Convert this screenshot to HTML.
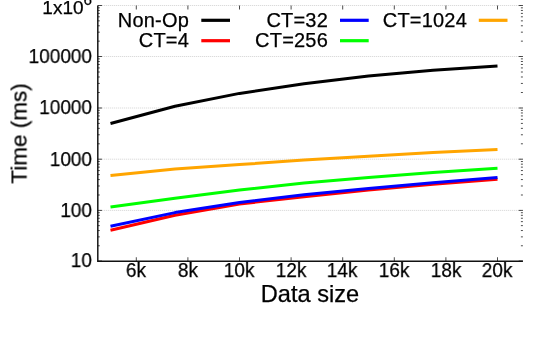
<!DOCTYPE html>
<html><head><meta charset="utf-8"><style>
html,body{margin:0;padding:0;background:#fff}
body{width:538px;height:349px;position:relative;overflow:hidden;font-family:"Liberation Sans",sans-serif;color:#000}
.t{position:absolute;white-space:nowrap;will-change:transform;-webkit-text-stroke:0.25px #000}
</style></head><body>
<svg width="538" height="349" viewBox="0 0 538 349" style="position:absolute;left:0;top:0">
<line x1="97.8" y1="210.40" x2="522.9" y2="210.40" stroke="#d2d2d2" stroke-width="1" stroke-dasharray="1,1"/>
<line x1="97.8" y1="159.20" x2="522.9" y2="159.20" stroke="#d2d2d2" stroke-width="1" stroke-dasharray="1,1"/>
<line x1="97.8" y1="108.00" x2="522.9" y2="108.00" stroke="#d2d2d2" stroke-width="1" stroke-dasharray="1,1"/>
<line x1="97.8" y1="56.50" x2="522.9" y2="56.50" stroke="#d2d2d2" stroke-width="1" stroke-dasharray="1,1"/>
<line x1="97.8" y1="5.50" x2="522.9" y2="5.50" stroke="#d2d2d2" stroke-width="1" stroke-dasharray="1,1"/>
<path d="M97.8 261.00h4.2 M522.9 261.00h-4.2 M97.8 245.77h2.0 M522.9 245.77h-2.0 M97.8 236.86h2.0 M522.9 236.86h-2.0 M97.8 230.54h2.0 M522.9 230.54h-2.0 M97.8 225.63h2.0 M522.9 225.63h-2.0 M97.8 221.63h2.0 M522.9 221.63h-2.0 M97.8 218.24h2.0 M522.9 218.24h-2.0 M97.8 215.30h2.0 M522.9 215.30h-2.0 M97.8 212.72h2.0 M522.9 212.72h-2.0 M97.8 210.40h4.2 M522.9 210.40h-4.2 M97.8 194.99h2.0 M522.9 194.99h-2.0 M97.8 185.97h2.0 M522.9 185.97h-2.0 M97.8 179.57h2.0 M522.9 179.57h-2.0 M97.8 174.61h2.0 M522.9 174.61h-2.0 M97.8 170.56h2.0 M522.9 170.56h-2.0 M97.8 167.13h2.0 M522.9 167.13h-2.0 M97.8 164.16h2.0 M522.9 164.16h-2.0 M97.8 161.54h2.0 M522.9 161.54h-2.0 M97.8 159.20h4.2 M522.9 159.20h-4.2 M97.8 143.79h2.0 M522.9 143.79h-2.0 M97.8 134.77h2.0 M522.9 134.77h-2.0 M97.8 128.37h2.0 M522.9 128.37h-2.0 M97.8 123.41h2.0 M522.9 123.41h-2.0 M97.8 119.36h2.0 M522.9 119.36h-2.0 M97.8 115.93h2.0 M522.9 115.93h-2.0 M97.8 112.96h2.0 M522.9 112.96h-2.0 M97.8 110.34h2.0 M522.9 110.34h-2.0 M97.8 108.00h4.2 M522.9 108.00h-4.2 M97.8 92.50h2.0 M522.9 92.50h-2.0 M97.8 83.43h2.0 M522.9 83.43h-2.0 M97.8 76.99h2.0 M522.9 76.99h-2.0 M97.8 72.00h2.0 M522.9 72.00h-2.0 M97.8 67.93h2.0 M522.9 67.93h-2.0 M97.8 64.48h2.0 M522.9 64.48h-2.0 M97.8 61.49h2.0 M522.9 61.49h-2.0 M97.8 58.86h2.0 M522.9 58.86h-2.0 M97.8 56.50h4.2 M522.9 56.50h-4.2 M97.8 41.15h2.0 M522.9 41.15h-2.0 M97.8 32.17h2.0 M522.9 32.17h-2.0 M97.8 25.79h2.0 M522.9 25.79h-2.0 M97.8 20.85h2.0 M522.9 20.85h-2.0 M97.8 16.81h2.0 M522.9 16.81h-2.0 M97.8 13.40h2.0 M522.9 13.40h-2.0 M97.8 10.44h2.0 M522.9 10.44h-2.0 M97.8 7.83h2.0 M522.9 7.83h-2.0 M97.8 5.50h4.2 M522.9 5.50h-4.2 M136.30 261.25v-4 M136.30 5.5v4 M187.90 261.25v-4 M187.90 5.5v4 M239.50 261.25v-4 M239.50 5.5v4 M291.10 261.25v-4 M291.10 5.5v4 M342.70 261.25v-4 M342.70 5.5v4 M394.30 261.25v-4 M394.30 5.5v4 M445.90 261.25v-4 M445.90 5.5v4 M497.50 261.25v-4 M497.50 5.5v4" stroke="#000" stroke-width="0.7" fill="none"/>
<path d="M97.8 5.5V261.25H522.9" stroke="#111" stroke-width="1.45" fill="none" stroke-linejoin="miter"/>
<polyline points="110.5,123.5 175.0,106.2 239.5,93.4 304.0,83.8 368.5,76.1 433.0,70.3 497.5,66.0" stroke="#000000" stroke-width="3" fill="none" stroke-linejoin="round"/>
<polyline points="110.5,230.2 175.0,215.3 239.5,204.0 304.0,196.7 368.5,190.1 433.0,184.3 497.5,179.2" stroke="#ff0000" stroke-width="3" fill="none" stroke-linejoin="round"/>
<polyline points="110.5,226.3 175.0,212.6 239.5,202.5 304.0,194.8 368.5,188.5 433.0,182.7 497.5,177.6" stroke="#0000ff" stroke-width="3" fill="none" stroke-linejoin="round"/>
<polyline points="110.5,207.1 175.0,198.2 239.5,190.0 304.0,183.1 368.5,177.6 433.0,172.5 497.5,168.3" stroke="#00ff00" stroke-width="3" fill="none" stroke-linejoin="round"/>
<polyline points="110.5,175.5 175.0,168.9 239.5,164.6 304.0,160.0 368.5,156.2 433.0,152.6 497.5,149.5" stroke="#ffa500" stroke-width="3" fill="none" stroke-linejoin="round"/>
<line x1="201.3" y1="20.3" x2="230" y2="20.3" stroke="#000" stroke-width="3.2"/>
<line x1="201.3" y1="40.7" x2="230" y2="40.7" stroke="#f00" stroke-width="3.2"/>
<line x1="340" y1="20.3" x2="368.7" y2="20.3" stroke="#00f" stroke-width="3.2"/>
<line x1="340" y1="40.7" x2="368.7" y2="40.7" stroke="#0f0" stroke-width="3.2"/>
<line x1="478.8" y1="20.3" x2="507.5" y2="20.3" stroke="#ffa500" stroke-width="3.2"/>
</svg>
<div class="t" style="left:-208.5px;width:300px;text-align:right;top:249.37px;font-size:19.7px;line-height:22.65px;transform:scaleX(0.965);transform-origin:100% 50%;">10</div>
<div class="t" style="left:-208.5px;width:300px;text-align:right;top:198.77px;font-size:19.7px;line-height:22.65px;transform:scaleX(0.965);transform-origin:100% 50%;">100</div>
<div class="t" style="left:-208.5px;width:300px;text-align:right;top:147.57px;font-size:19.7px;line-height:22.65px;transform:scaleX(0.965);transform-origin:100% 50%;">1000</div>
<div class="t" style="left:-208.5px;width:300px;text-align:right;top:96.37px;font-size:19.7px;line-height:22.65px;transform:scaleX(0.965);transform-origin:100% 50%;">10000</div>
<div class="t" style="left:-208.5px;width:300px;text-align:right;top:44.87px;font-size:19.7px;line-height:22.65px;transform:scaleX(0.965);transform-origin:100% 50%;">100000</div>
<div class="t" style="left:-208.2px;width:300px;text-align:right;top:-3.50px;font-size:19px;line-height:21.85px;">1x10<span style="font-size:15.2px;position:relative;top:-9.2px">6</span></div>
<div class="t" style="left:-14.0px;width:300px;text-align:center;top:260.03px;font-size:19.3px;line-height:22.20px;transform:scaleX(0.985);transform-origin:50% 50%;">6k</div>
<div class="t" style="left:37.599999999999994px;width:300px;text-align:center;top:260.03px;font-size:19.3px;line-height:22.20px;transform:scaleX(0.985);transform-origin:50% 50%;">8k</div>
<div class="t" style="left:89.19999999999999px;width:300px;text-align:center;top:260.03px;font-size:19.3px;line-height:22.20px;transform:scaleX(0.985);transform-origin:50% 50%;">10k</div>
<div class="t" style="left:140.8px;width:300px;text-align:center;top:260.03px;font-size:19.3px;line-height:22.20px;transform:scaleX(0.985);transform-origin:50% 50%;">12k</div>
<div class="t" style="left:192.40000000000003px;width:300px;text-align:center;top:260.03px;font-size:19.3px;line-height:22.20px;transform:scaleX(0.985);transform-origin:50% 50%;">14k</div>
<div class="t" style="left:244.0px;width:300px;text-align:center;top:260.03px;font-size:19.3px;line-height:22.20px;transform:scaleX(0.985);transform-origin:50% 50%;">16k</div>
<div class="t" style="left:295.6px;width:300px;text-align:center;top:260.03px;font-size:19.3px;line-height:22.20px;transform:scaleX(0.985);transform-origin:50% 50%;">18k</div>
<div class="t" style="left:347.2px;width:300px;text-align:center;top:260.03px;font-size:19.3px;line-height:22.20px;transform:scaleX(0.985);transform-origin:50% 50%;">20k</div>
<div class="t" style="left:159.89999999999998px;width:300px;text-align:center;top:281.34px;font-size:23.6px;line-height:27.14px;">Data size</div>
<div class="t" style="left:-111.19999999999999px;width:300px;text-align:right;top:8.90px;font-size:20px;line-height:23.00px;letter-spacing:0.2px;">Non-Op</div>
<div class="t" style="left:-111.19999999999999px;width:300px;text-align:right;top:29.00px;font-size:20px;line-height:23.00px;letter-spacing:0.2px;">CT=4</div>
<div class="t" style="left:28.19999999999999px;width:300px;text-align:right;top:8.90px;font-size:20px;line-height:23.00px;letter-spacing:0.2px;">CT=32</div>
<div class="t" style="left:28.19999999999999px;width:300px;text-align:right;top:29.00px;font-size:20px;line-height:23.00px;letter-spacing:0.2px;">CT=256</div>
<div class="t" style="left:166.60000000000002px;width:300px;text-align:right;top:8.90px;font-size:20px;line-height:23.00px;letter-spacing:0.2px;">CT=1024</div>
<div class="t" style="left:-130.6px;width:300px;text-align:center;top:121px;font-size:22.5px;line-height:25px;transform:rotate(-90deg)">Time (ms)</div>
</body></html>
